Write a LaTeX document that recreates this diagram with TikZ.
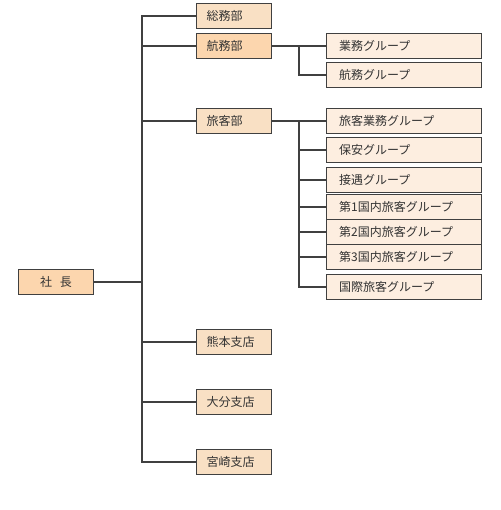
\documentclass[tikz,border=0pt]{standalone}
\usepackage{fontspec}
\setmainfont{Noto Sans CJK JP}
\definecolor{linec}{HTML}{404040}
\definecolor{textc}{HTML}{333333}
\definecolor{fdark}{HTML}{FCD6AE}
\definecolor{fmid}{HTML}{F9E0C4}
\definecolor{flight}{HTML}{FDEEE0}
\tikzset{
  box/.style={draw=linec, line width=1pt, text=textc, font=\fontsize{12pt}{13pt}\selectfont,
    minimum height=25pt, inner ysep=0pt, align=left},
  dept/.style={box, fill=fmid, text width=54pt, inner xsep=10.5pt},
  deptdark/.style={dept, fill=fdark},
  grp/.style={box, fill=flight, text width=130pt, inner xsep=12.5pt},
  conn/.style={draw=linec, line width=2pt}
}
\begin{document}
\begin{tikzpicture}[x=1pt,y=-1pt]
\useasboundingbox (0,0) rectangle (500,510);
% main
\node[box, fill=fdark, minimum width=75pt, inner xsep=0pt, align=center] (shacho) at (56,281.8) {社\hspace{8pt}長};
% departments
\node[dept] (somu) at (233.7,15.8) {総務部};
\node[deptdark] (kou) at (233.7,45.8) {航務部};
\node[dept] (ryo) at (233.7,120.8) {旅客部};
\node[dept] (kuma) at (233.7,342.2) {熊本支店};
\node[dept] (oita) at (233.7,401.8) {大分支店};
\node[dept] (miya) at (233.7,461.8) {宮崎支店};
% groups
\node[grp] (gyomu) at (404.2,45.8) {業務グループ};
\node[grp] (koumu) at (404.2,75.2) {航務グループ};
\node[grp] (ryogyo) at (404.2,120.8) {旅客業務グループ};
\node[grp] (hoan) at (404.2,149.8) {保安グループ};
\node[grp] (setsu) at (404.2,179.8) {接遇グループ};
\node[grp] (d1) at (404.2,206.8) {第1国内旅客グループ};
\node[grp] (d2) at (404.2,231.8) {第2国内旅客グループ};
\node[grp] (d3) at (404.2,256.8) {第3国内旅客グループ};
\node[grp] (koku) at (404.2,286.8) {国際旅客グループ};
% trunk coordinates
\coordinate (trunk) at (142,0);
\coordinate (bkou) at (299,0);
\coordinate (bryo) at (299,0);
% connectors
\draw[conn] (shacho.east) -- (shacho.east -| trunk);
\draw[conn] (somu.west) -- (somu.west -| trunk) -- (miya.west -| trunk) -- (miya.west);
\foreach \n in {kou,ryo,kuma,oita} \draw[conn] (\n.west) -- (\n.west -| trunk);
\draw[conn] (kou.east) -- (gyomu.west);
\draw[conn] (kou.east -| bkou) -- (koumu.west -| bkou) -- (koumu.west);
\draw[conn] (ryo.east) -- (ryogyo.west);
\draw[conn] (ryo.east -| bryo) -- (koku.west -| bryo) -- (koku.west);
\foreach \n in {hoan,setsu,d1,d2,d3} \draw[conn] (\n.west) -- (\n.west -| bryo);
\end{tikzpicture}
\end{document}
